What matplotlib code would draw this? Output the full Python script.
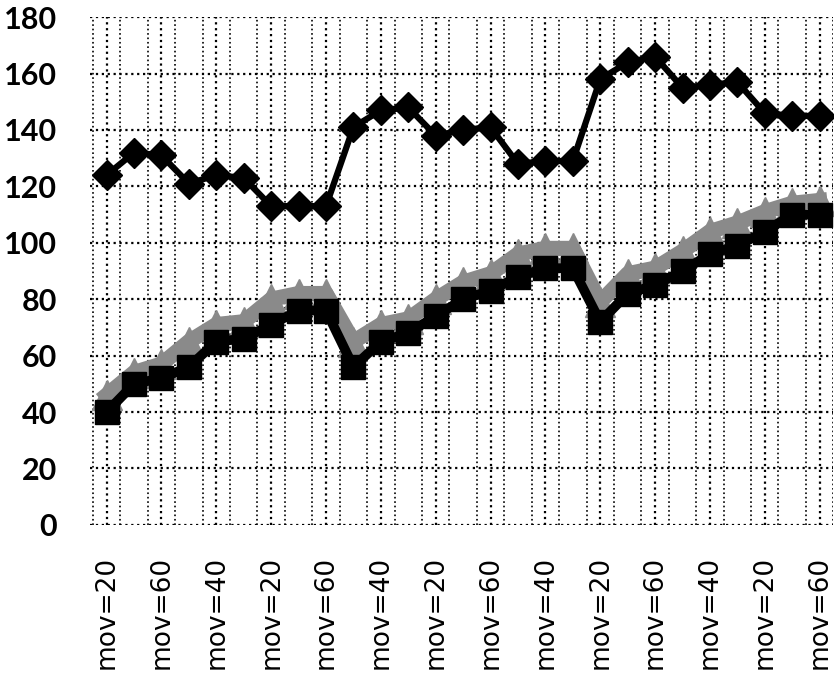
import numpy as np
import matplotlib
matplotlib.use("Agg")
import matplotlib.pyplot as plt

# -----------------------------
# Data
# -----------------------------
mov_cycle = ["mov=20", "mov=40", "mov=60"]
categories = mov_cycle * 9

diamond_vals = [124, 132, 131, 121, 124, 123, 113, 113, 113,
                141, 147, 148, 138, 140, 141, 128, 129, 129,
                158, 164, 166, 155, 156, 157, 146, 145, 145]

square_vals = [40, 50, 52, 56, 65, 66, 71, 76, 76,
               56, 65, 68, 74, 80, 83, 88, 91, 91,
               72, 82, 85, 90, 96, 99, 104, 110, 110]

gray_vals = [46, 54, 57, 65, 71, 72, 80, 82, 82,
             65, 71, 73, 80, 86, 89, 96, 98, 98,
             79, 89, 91, 97, 104, 107, 111, 114, 115]

y_ticks = [0, 20, 40, 60, 80, 100, 120, 140, 160, 180]

x = np.arange(len(categories))

# -----------------------------
# Plot
# -----------------------------
fig = plt.figure(figsize=(8.35, 6.87), dpi=100)
ax = fig.add_axes([0.108, 0.236, 0.89, 0.739])

ax.plot(x, gray_vals, color="#8a8a8a", lw=11, marker="^", ms=22,
        markeredgecolor="#8a8a8a", zorder=3)
ax.plot(x, square_vals, color="black", lw=7, marker="s", ms=17,
        zorder=4)
ax.plot(x, diamond_vals, color="black", lw=4.5, marker="D", ms=15,
        zorder=5)

ax.set_xlim(-0.6, 26.5)
ax.set_ylim(0, 180)
ax.set_yticks(y_ticks)
ax.set_yticklabels([str(v) for v in y_ticks], fontsize=22,
                   fontweight="bold", family="Lato")

ax.set_xticks(x[::2])
ax.set_xticklabels(categories[::2], rotation=90, fontsize=19)
ax.set_xticks(np.arange(-0.5, len(categories), 1.0), minor=True)

ax.grid(True, which="major", color="black", ls=":", lw=1.6)
ax.grid(True, which="minor", axis="x", color="black", ls=":", lw=1.2)
for s in ax.spines.values():
    s.set_visible(False)
ax.tick_params(axis="y", length=0, pad=24)
ax.tick_params(axis="x", which="both", length=0, pad=22)

fig.savefig("out.png", dpi=100)
